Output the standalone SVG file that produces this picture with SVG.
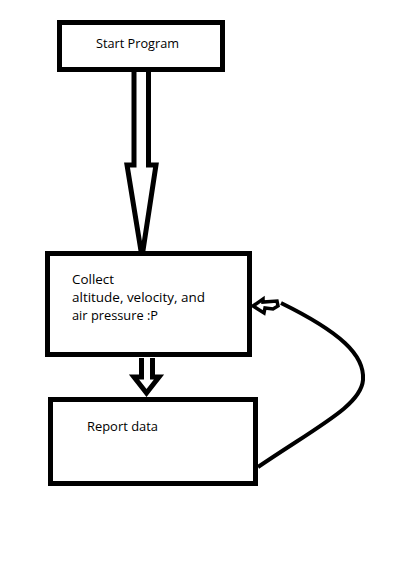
<svg xmlns="http://www.w3.org/2000/svg" width="415" height="573" viewBox="0 0 415 573">
<style>
.box{fill:#fff;stroke:#000;stroke-width:5}
.t{font-family:"Open Sans","Noto Sans",sans-serif;font-size:13px;fill:#000}
.ln{fill:none;stroke:#000;stroke-width:5;stroke-linejoin:miter}
.cv{fill:none;stroke:#000;stroke-width:4}
</style>
<rect width="415" height="573" fill="#fff"/>
<g id="connectors">
<path class="ln" d="M134 72 V165 H127 L142 257 L156 165 H148.5 V72"/>
<path class="ln" d="M141.5 358 V377 H134 L146.5 393 L159 377 H152.5 V358"/>
<path class="cv" d="M258 467 C320 425 361 405 363 380 C365 355 340 332 281 303"/>
<path class="ln" style="stroke-width:3.5;fill:#fff" d="M253 306 L263 299 L263 302 L277 301 L278 306 L273 309 L265 308 L264 313 Z"/>
</g>
<g id="start">
<rect class="box" x="59.5" y="22.5" width="163" height="47"/>
<text class="t" x="96" y="48" textLength="83" lengthAdjust="spacingAndGlyphs">Start Program</text>
</g>
<g id="collect">
<rect class="box" x="47.5" y="253.5" width="202" height="101"/>
<text class="t" x="72" y="283.5" textLength="42" lengthAdjust="spacingAndGlyphs">Collect</text>
<text class="t" x="72" y="301.5" textLength="133" lengthAdjust="spacingAndGlyphs">altitude, velocity, and</text>
<text class="t" x="72" y="319.5" textLength="86" lengthAdjust="spacingAndGlyphs">air pressure :P</text>
</g>
<g id="report">
<rect class="box" x="50.5" y="399.5" width="205" height="84"/>
<text class="t" x="87" y="431" textLength="71" lengthAdjust="spacingAndGlyphs">Report data</text>
</g>
</svg>
